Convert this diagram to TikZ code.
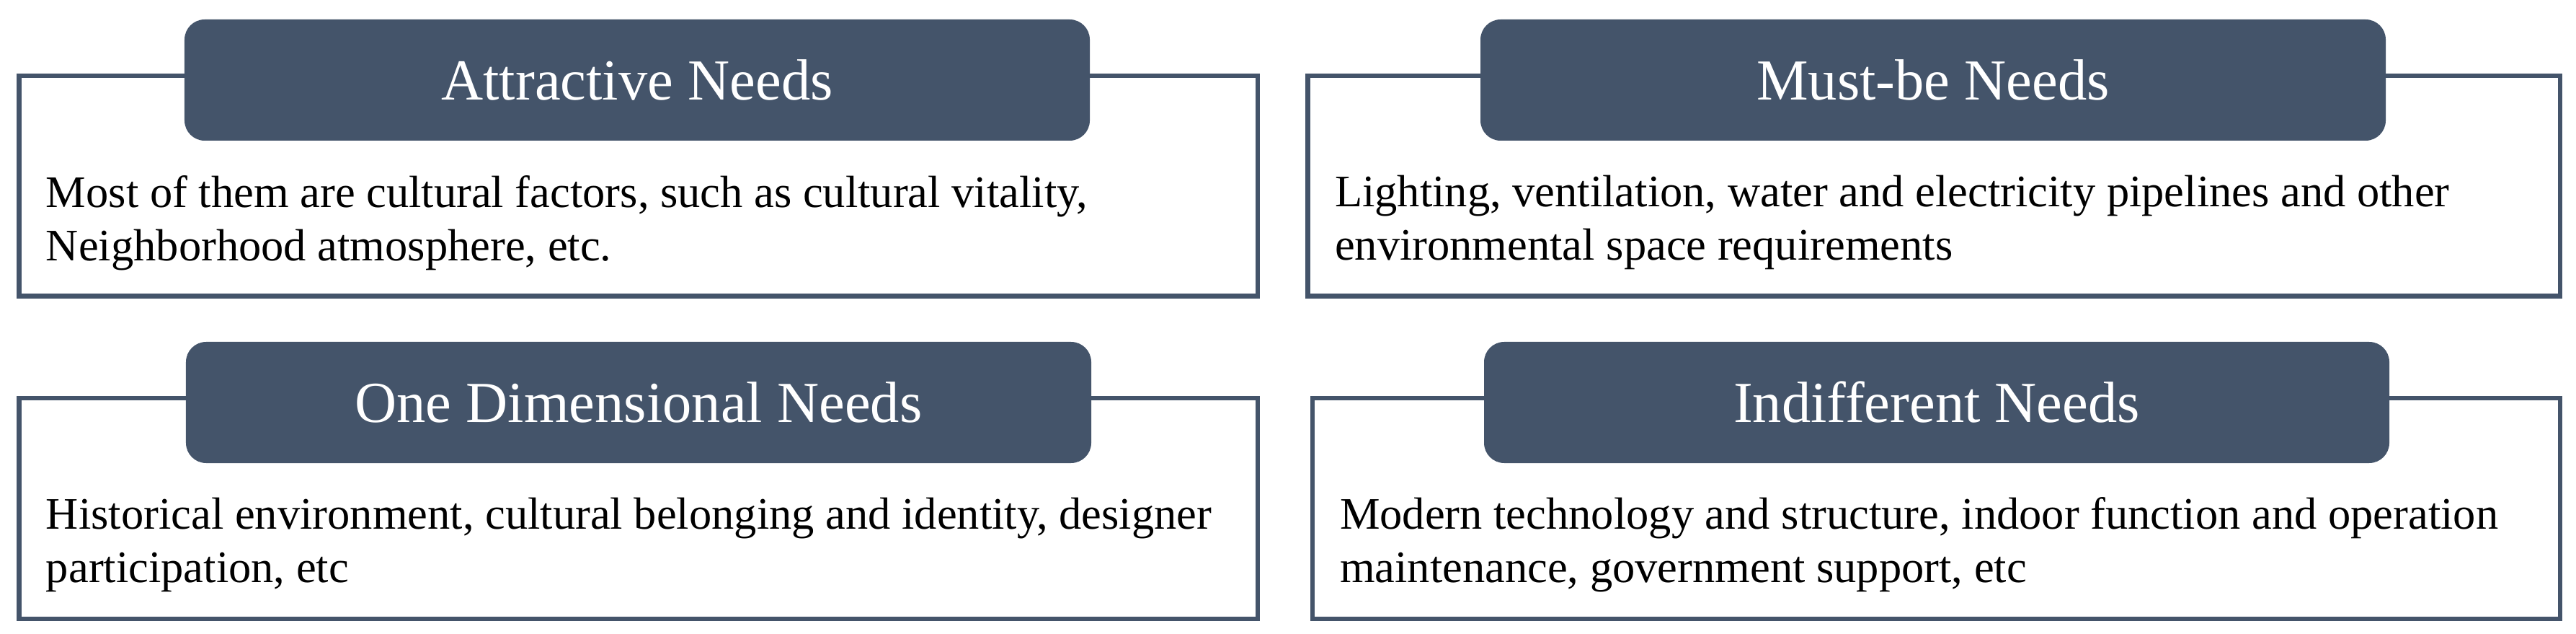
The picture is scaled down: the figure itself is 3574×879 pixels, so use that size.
\documentclass[tikz,border=0pt]{standalone}
\usepackage{fontspec}
\setmainfont{Liberation Serif}
\definecolor{needblue}{RGB}{68,84,106}
\tikzset{
  needbox/.style={draw=needblue, line width=1.25pt, inner sep=0pt},
  needhead/.style={fill=needblue, rounded corners=5.6pt, inner sep=0pt, text=white,
    minimum width=251.2pt, minimum height=33.6pt, font=\fontsize{16.1}{18}\selectfont},
  needtext/.style={anchor=base west, inner sep=0pt, align=left,
    font=\fontsize{12.5}{14.8}\selectfont}
}
\begin{document}
\begin{tikzpicture}[x=0.2pt,y=-0.2pt]
\useasboundingbox (0,0) rectangle (3574,879);

%Shape: outer boxes
\node [needbox, minimum width=343.7pt, minimum height=61.1pt] (attbox) at (885.75,257.75) {};
\node [needbox, minimum width=347.5pt, minimum height=61.1pt] (mustbox) at (2683.25,257.75) {};
\node [needbox, minimum width=343.7pt, minimum height=61.1pt] (onebox) at (885.75,705) {};
\node [needbox, minimum width=346.3pt, minimum height=61.1pt] (indbox) at (2686.5,705) {};

%Shape: headers
\node [needhead] (atthead) at (884,111) {Attractive Needs};
\node [needhead] (musthead) at (2682,111) {Must-be Needs};
\node [needhead] (onehead) at (886,558) {One Dimensional Needs};
\node [needhead] (indhead) at (2687,558) {Indifferent Needs};

% Text Node (anchored at the second line)
\node [needtext] (atttext) at (63,362) {Most of them are cultural factors, such as cultural vitality,\\Neighborhood atmosphere, etc.};
% Text Node
\node [needtext] (musttext) at (1851,361) {Lighting, ventilation, water and electricity pipelines and other\\environmental space requirements};
% Text Node
\node [needtext] (onetext) at (63,807) {Historical environment, cultural belonging and identity, designer\\participation, etc};
% Text Node
\node [needtext] (indtext) at (1858,807) {Modern technology and structure, indoor function and operation\\maintenance, government support, etc};

\end{tikzpicture}
\end{document}
